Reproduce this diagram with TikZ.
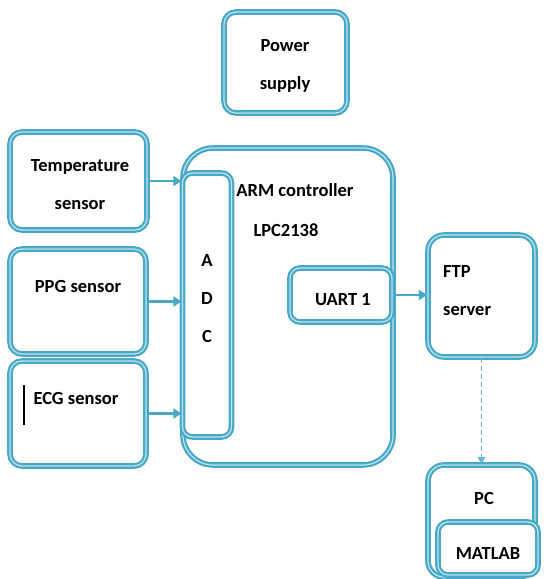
\documentclass[tikz,border=0pt]{standalone}
\usepackage{fontspec}
\setmainfont{Carlito}
\usetikzlibrary{arrows.meta}
\definecolor{tealc}{RGB}{72,168,198}
\definecolor{tealL}{RGB}{190,228,240}
\tikzset{
  blk/.style={draw=tealc, double=tealL, line width=2.2pt, double distance=1.2pt, fill=white, rounded corners=#1, inner sep=0pt},
  blk/.default=12pt,
  txt/.style={font=\fontsize{18.5}{38}\selectfont\bfseries, inner sep=0pt, align=center, text=black},
  arr/.style={draw=tealc, line width=2.8pt, -{Triangle[length=8pt,width=10pt]}},
  darr/.style={draw=tealc!80, line width=1.4pt, dashed, dash pattern=on 5pt off 3pt, -{Triangle[length=7pt,width=8pt]}},
}
\begin{document}
\begin{tikzpicture}[x=1pt,y=-1pt]
\useasboundingbox (0,0) rectangle (544,579);
% boxes
\node[blk, minimum width=123pt, minimum height=101pt] (power) at (285.5,62.5) {};
\node[blk, minimum width=137pt, minimum height=98pt] (temp) at (78.5,181) {};
\node[blk, minimum width=136pt, minimum height=105pt] (ppg) at (78,301.5) {};
\node[blk, minimum width=136pt, minimum height=105pt] (ecg) at (78,413.5) {};
\node[blk=30pt, minimum width=210pt, minimum height=317pt] (arm) at (288,306.5) {};
\node[blk=10pt, minimum width=49pt, minimum height=264pt] (adc) at (207,305) {};
\node[blk=10pt, minimum width=102pt, minimum height=54pt] (uart) at (341,295) {};
\node[blk=16pt, minimum width=107pt, minimum height=122pt] (ftp) at (481.5,296) {};
\node[blk=16pt, minimum width=107pt, minimum height=112pt] (pc) at (481.5,521) {};
\node[blk=10pt, minimum width=100pt, minimum height=53pt] (matlab) at (488,548.5) {};
% texts
\node[txt] (tpower) at (285,66) {Power\\supply};
\node[txt] (ttemp) at (80,185) {Temperature\\sensor};
\node[txt] (tppg) at (78,286) {PPG sensor};
\node[txt] (tecg) at (76,398) {ECG sensor};
\node[txt] (tarm) at (295,190) {ARM controller};
\node[txt] (tlpc) at (286,230) {LPC2138};
\node[txt] (tadc) at (207,298.5) {A\\D\\C};
\node[txt] (tuart) at (343,300) {UART 1};
\node[txt, align=left, anchor=west] (tftp) at (443,290.5) {FTP\\server};
\node[txt] (tpc) at (484,498) {PC};
\node[txt] (tmat) at (488,553) {MATLAB};
% cursor bar
\coordinate (bar1) at (24,385);
\coordinate (bar2) at (24,425);
\draw[black, line width=1.8pt] (bar1) -- (bar2);
% connectors
\draw[arr] (temp.east) -- (temp.east -| adc.west);
\draw[arr] (ppg.east) -- (ppg.east -| adc.west);
\draw[arr] (ecg.east) -- (ecg.east -| adc.west);
\draw[arr] (uart.east) -- (uart.east -| ftp.west);
\draw[darr] (ftp.south) -- (pc.north);
\end{tikzpicture}
\end{document}
